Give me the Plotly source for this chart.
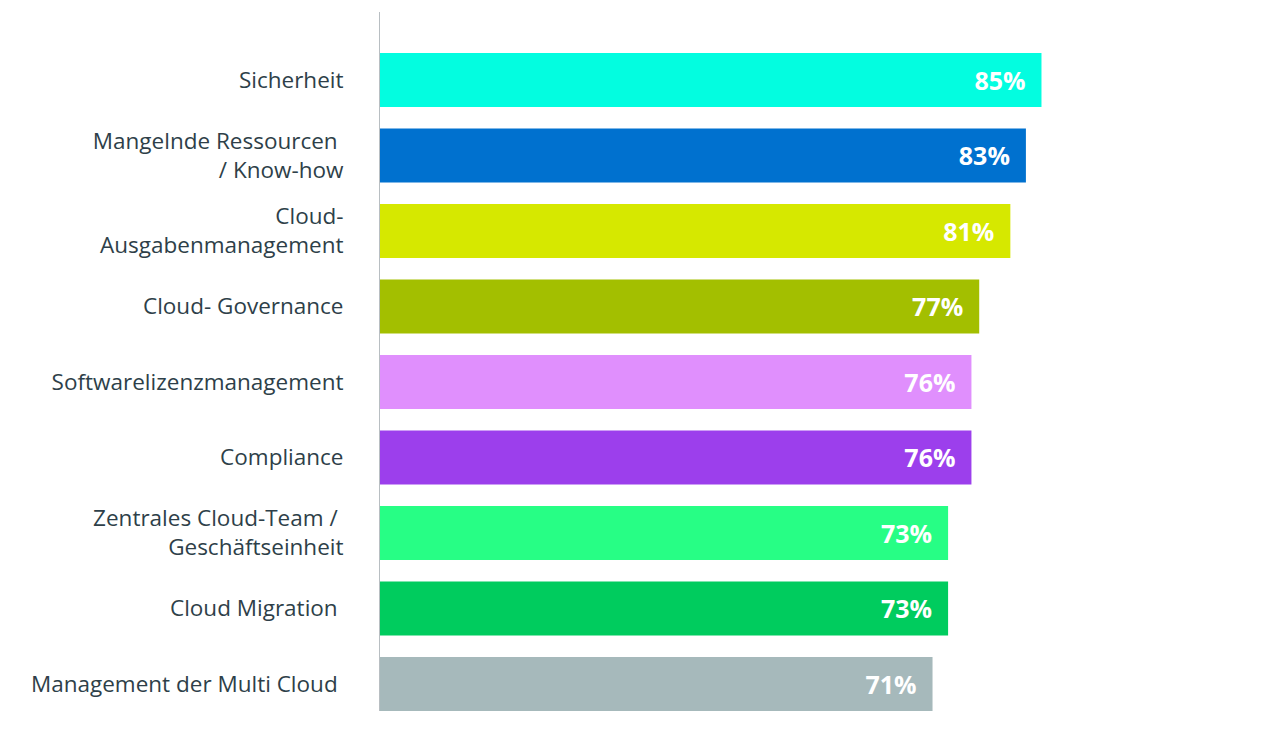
import plotly.graph_objects as go

categories = [
    "Sicherheit",
    "Mangelnde Ressourcen\u00a0<br>/ Know-how",
    "Cloud-<br>Ausgabenmanagement",
    "Cloud- Governance",
    "Softwarelizenzmanagement",
    "Compliance",
    "Zentrales Cloud-Team /\u00a0<br>Geschäftseinheit",
    "Cloud Migration\u00a0",
    "Management der Multi Cloud\u00a0",
]
values = [85, 83, 81, 77, 76, 76, 73, 73, 71]
colors = ["#03FDE0", "#0071CF", "#D6E800", "#A3BF00", "#E08FFD",
          "#9C3FEC", "#27FE85", "#00CC5E", "#A6B9BB"]

labels = [f"{v}%\u00a0\u00a0" for v in values]

fig = go.Figure(go.Bar(
    x=values, y=categories, orientation="h",
    marker=dict(color=colors, line=dict(width=0)),
    text=labels, textposition="inside", insidetextanchor="end",
    textfont=dict(family="Open Sans", size=25, color="white", weight="bold"),
    textangle=0,
    hoverinfo="skip",
))

fig.update_layout(
    width=1272, height=737,
    margin=dict(l=372, r=100, t=4, b=34),
    paper_bgcolor="white", plot_bgcolor="white",
    bargap=0.285,
    showlegend=False,
    uniformtext=dict(mode="show", minsize=10),
    font=dict(family="Open Sans", color="#2E3F49"),
)
fig.update_xaxes(range=[0, 102.8], visible=False, showgrid=False, zeroline=False)
fig.update_yaxes(
    range=[8.358, -0.9], showline=True, linecolor="#B8BEC2", linewidth=1,
    showgrid=False, ticks="outside", ticklen=0, ticklabelstandoff=31,
    tickfont=dict(family="Open Sans", size=22.5, color="#2E3F49"),
)

fig.write_html("out.html")
